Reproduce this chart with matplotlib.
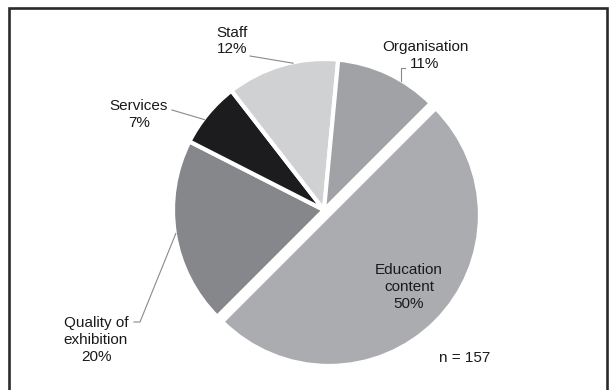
import numpy as np
import matplotlib
matplotlib.use("Agg")
import matplotlib.pyplot as plt

# Share of comments by topic (n = 157)
categories = ["Education\ncontent", "Quality of\nexhibition", "Services", "Staff", "Organisation"]
shares = [50, 20, 7, 12, 11]
colors = ["#aaacb0", "#86878b", "#1c1c1e", "#d0d1d3", "#a0a2a5"]
sample_note = "n = 157"

W, H = 616, 390
plt.rcParams["font.family"] = ["Liberation Sans", "DejaVu Sans"]

fig = plt.figure(figsize=(W / 100, H / 100), dpi=100)
ax = fig.add_axes([0, 0, 1, 1])

# the axes work in pixel units, so the explode offset is in pixels too
cx, cy, r = 324, H - 210, 151
pull_out = 7
wedges, _ = ax.pie(
    shares, colors=colors, startangle=45, counterclock=False,
    center=(cx, cy), radius=r, explode=[pull_out, 0, 0, 0, 0],
    wedgeprops=dict(edgecolor="white", linewidth=3), frame=False,
)
ax.set_xlim(0, W)
ax.set_ylim(0, H)
ax.set_aspect("equal")
ax.axis("off")

# outer frame (left, top, right)
ax.plot([8.5, 8.5, 607, 607], [-5, H - 8, H - 8, -5], color="#2b2b2b", lw=1.9,
        solid_joinstyle="miter", clip_on=False)

def label(i, x, y):
    pct = f"{shares[i]}%"
    ax.text(x, H - y, f"{categories[i]}\n{pct}", ha="center", va="center",
            fontsize=11, color="#1a1a1a", linespacing=1.25)

def edge_point(i, frac=0.5):
    w = wedges[i]
    ang = np.deg2rad(w.theta1 + frac * (w.theta2 - w.theta1))
    return cx + (r - 1) * np.cos(ang), cy + (r - 1) * np.sin(ang)

lead = dict(color="#8a8a8a", lw=0.8)

# Education content (inside its slice)
label(0, 409, 287)

# Quality of exhibition
label(1, 96, 340)
ex, ey = edge_point(1, 0.5)
ax.plot([134, 140, ex], [H - 322, H - 322, ey], **lead)

# Services
label(2, 139, 114.5)
ex, ey = edge_point(2, 0.6)
ax.plot([172, ex], [H - 110, ey], **lead)

# Staff
label(3, 232, 41)
ex, ey = edge_point(3, 0.4)
ax.plot([250, ex], [H - 56, ey], **lead)

# Organisation
label(4, 425, 55.5)
vx = 401
vy = cy + np.sqrt((r - 1) ** 2 - (vx - cx) ** 2)
ax.plot([405, vx, vx], [H - 68, H - 68, vy], **lead)

ax.text(465, H - 358, sample_note, ha="center", va="center", fontsize=11, color="#1a1a1a")

fig.savefig("out.png", dpi=100, facecolor="white")
